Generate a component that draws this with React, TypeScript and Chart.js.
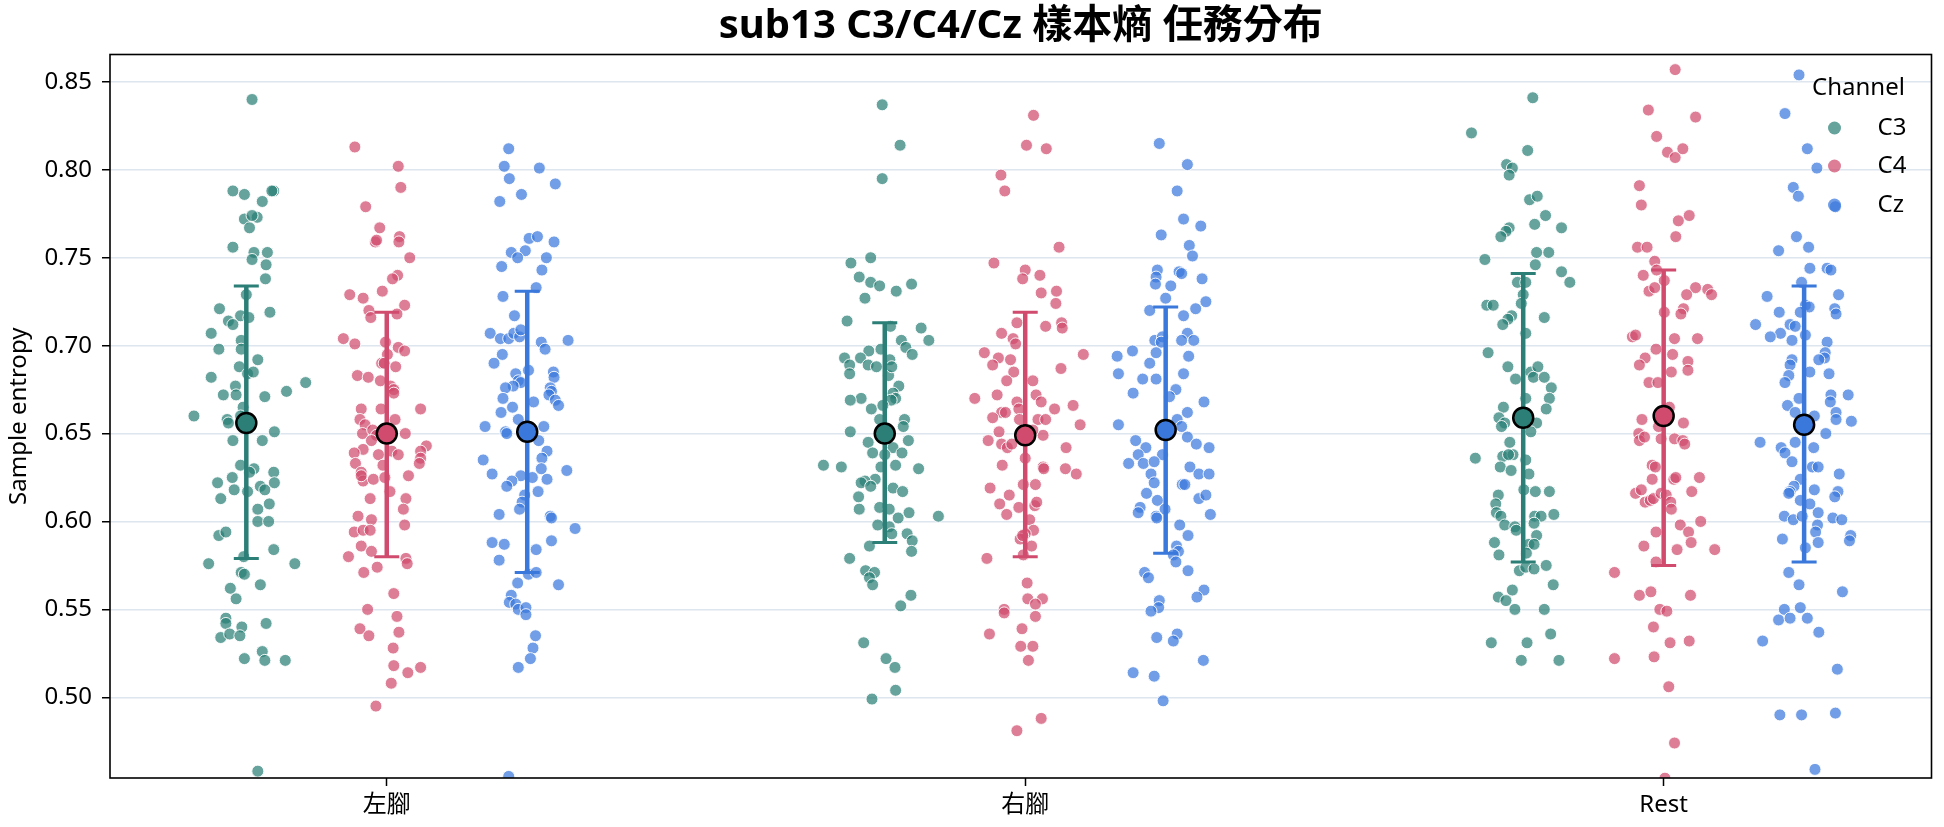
import React, { useEffect, useRef } from 'react';
import { Chart, registerables } from 'chart.js';

Chart.register(...registerables);

const categories = ['左腳', '右腳', 'Rest'];
const channels = ['C3', 'C4', 'Cz'];
const channelOffsets = [-0.22, 0, 0.22];
const yTickValues = [0.5, 0.55, 0.6, 0.65, 0.7, 0.75, 0.8, 0.85];
const pointColors = ['rgba(42,127,118,0.72)', 'rgba(208,75,110,0.72)', 'rgba(58,120,220,0.72)'];
const solidColors = ['#2b7f77', '#d04b6e', '#3a78dc'];

// C3
const c3LeftY = [0.840,0.788,0.786,0.788,0.788,0.782,0.772,0.773,0.767,0.774,0.756,0.753,0.753,0.749,0.746,0.738,0.729,0.721,0.719,0.714,0.717,0.716,0.712,0.707,0.703,0.698,0.698,0.692,0.682,0.688,0.684,0.685,0.679,0.674,0.672,0.677,0.672,0.671,0.660,0.665,0.660,0.658,0.656,0.651,0.646,0.646,0.632,0.630,0.628,0.628,0.622,0.625,0.618,0.617,0.620,0.618,0.622,0.613,0.610,0.607,0.600,0.600,0.592,0.594,0.584,0.576,0.576,0.580,0.571,0.570,0.562,0.556,0.564,0.545,0.542,0.540,0.542,0.534,0.536,0.535,0.522,0.526,0.521,0.521,0.458];
const c3LeftJ = [0.009,-0.021,-0.003,0.043,0.040,0.025,-0.003,0.017,0.005,0.009,-0.021,0.012,0.033,0.009,0.031,0.030,0,-0.042,0.037,-0.028,-0.009,0.004,-0.021,-0.055,-0.008,-0.043,-0.008,0.018,-0.055,-0.011,0.002,0.011,0.093,0.063,-0.036,-0.017,-0.016,0.029,-0.082,-0.005,-0.009,-0.030,-0.028,0.044,-0.021,0.025,-0.009,0.012,0.005,0.043,-0.045,-0.022,-0.019,0.002,0.022,0.029,0.044,-0.040,0.036,0.018,0.018,0.035,-0.043,-0.032,0.043,-0.059,0.076,-0.004,-0.008,-0.003,-0.025,-0.016,0.022,-0.032,-0.032,-0.007,0.031,-0.040,-0.026,-0.010,-0.003,0.025,0.029,0.061,0.018];
const c3RightY = [0.837,0.814,0.795,0.750,0.747,0.739,0.736,0.734,0.731,0.735,0.727,0.714,0.710,0.711,0.703,0.703,0.699,0.695,0.697,0.698,0.693,0.693,0.689,0.684,0.689,0.688,0.692,0.683,0.688,0.677,0.673,0.670,0.669,0.670,0.669,0.664,0.666,0.658,0.658,0.654,0.651,0.646,0.645,0.642,0.639,0.639,0.638,0.632,0.631,0.630,0.632,0.631,0.624,0.623,0.622,0.620,0.619,0.617,0.614,0.607,0.608,0.607,0.605,0.603,0.602,0.598,0.597,0.593,0.593,0.589,0.583,0.586,0.579,0.572,0.571,0.568,0.564,0.558,0.552,0.531,0.522,0.517,0.504,0.499];
const c3RightJ = [-0.004,0.024,-0.004,-0.022,-0.053,-0.040,-0.022,-0.008,0.018,0.042,-0.031,-0.059,0.057,0.009,0.069,0.026,0.033,0.043,-0.025,-0.006,-0.063,-0.038,-0.055,-0.055,-0.026,-0.013,0.008,0.006,0.011,0.022,0.013,0.017,0.010,-0.037,-0.054,-0.021,-0.003,0.031,-0.008,0.029,-0.054,0.037,-0.026,0.013,-0.019,0.027,0,-0.096,-0.068,0.053,0.017,-0.006,-0.015,-0.031,-0.037,-0.022,0.013,0.028,-0.041,-0.040,-0.008,0.007,0.038,0.084,0.021,-0.011,0.007,0.011,0.035,0.043,0.042,-0.024,-0.055,-0.030,-0.016,-0.024,-0.019,0.041,0.025,-0.033,0.002,0.016,0.017,-0.020];
const c3RestY = [0.841,0.821,0.811,0.803,0.801,0.797,0.783,0.785,0.774,0.769,0.767,0.767,0.765,0.762,0.753,0.753,0.749,0.746,0.742,0.736,0.736,0.736,0.729,0.723,0.723,0.724,0.717,0.715,0.712,0.716,0.707,0.696,0.688,0.681,0.685,0.688,0.682,0.682,0.676,0.670,0.664,0.670,0.665,0.659,0.656,0.654,0.656,0.651,0.645,0.636,0.637,0.638,0.638,0.635,0.631,0.629,0.627,0.618,0.617,0.617,0.615,0.610,0.605,0.603,0.598,0.604,0.597,0.595,0.603,0.603,0.599,0.592,0.588,0.587,0.587,0.581,0.582,0.575,0.572,0.574,0.573,0.564,0.561,0.557,0.555,0.550,0.550,0.531,0.531,0.536,0.521,0.521];
const c3RestJ = [0.015,-0.081,0.007,-0.026,-0.017,-0.022,0.010,0.022,0.035,0.018,0.060,-0.022,-0.027,-0.035,0.021,0.040,-0.060,0.019,0.060,0.073,-0.009,0.004,0,-0.057,-0.047,-0.003,-0.018,-0.024,-0.032,0.033,0.004,-0.055,-0.024,-0.012,0.012,0.023,0.016,0.033,0.044,0.041,0.036,0.004,-0.031,-0.038,-0.029,-0.034,0.021,0.012,-0.021,-0.075,-0.032,-0.016,-0.023,0.004,-0.036,-0.019,0.009,0.001,0.019,0.041,-0.039,-0.043,-0.042,-0.035,-0.029,0.048,-0.013,-0.011,0.018,0.028,0.017,0.021,-0.045,0.009,0.017,-0.038,0.005,0.036,-0.006,0.004,0.017,0.047,-0.017,-0.039,-0.027,-0.013,0.033,-0.050,0.006,0.043,-0.003,0.056];

// C4
const c4LeftY = [0.813,0.802,0.790,0.779,0.767,0.759,0.760,0.762,0.759,0.750,0.740,0.738,0.729,0.727,0.731,0.723,0.720,0.716,0.718,0.704,0.701,0.702,0.699,0.697,0.695,0.690,0.690,0.688,0.683,0.682,0.680,0.677,0.675,0.673,0.664,0.664,0.664,0.658,0.658,0.655,0.650,0.652,0.649,0.650,0.646,0.641,0.638,0.640,0.638,0.639,0.643,0.640,0.636,0.633,0.633,0.632,0.628,0.623,0.626,0.624,0.625,0.626,0.617,0.613,0.613,0.607,0.603,0.601,0.598,0.594,0.595,0.595,0.586,0.583,0.580,0.579,0.576,0.574,0.571,0.559,0.550,0.546,0.539,0.535,0.537,0.528,0.518,0.514,0.517,0.508,0.495];
const c4LeftJ = [-0.050,0.018,0.022,-0.033,-0.011,-0.018,-0.016,0.020,0.019,0.036,0.017,0.009,-0.058,-0.037,-0.007,0.028,-0.028,-0.025,0.016,-0.068,-0.050,-0.002,0.018,0.028,0.001,-0.008,-0.004,0.014,-0.046,-0.029,-0.010,0.006,0.011,0.011,0.053,-0.040,-0.009,0.013,-0.042,-0.034,-0.038,-0.022,-0.016,0.029,-0.024,-0.037,-0.013,0.008,0.018,-0.051,0.062,0.053,0.053,0.051,-0.049,-0.006,-0.040,-0.037,-0.040,-0.021,-0.003,0.034,0.005,-0.026,0.030,0.026,-0.045,-0.024,0.028,-0.051,-0.037,-0.026,-0.040,-0.024,-0.060,0.030,0.032,-0.015,-0.036,0.011,-0.030,0.016,-0.042,-0.028,0.019,0.010,0.011,0.033,0.053,0.007,-0.017];
const c4RightY = [0.831,0.814,0.812,0.797,0.788,0.756,0.747,0.743,0.738,0.740,0.730,0.731,0.724,0.713,0.711,0.713,0.710,0.707,0.704,0.701,0.696,0.693,0.689,0.692,0.685,0.695,0.687,0.680,0.680,0.670,0.672,0.668,0.672,0.668,0.664,0.666,0.664,0.662,0.662,0.659,0.658,0.658,0.658,0.655,0.651,0.646,0.644,0.642,0.644,0.649,0.652,0.642,0.636,0.631,0.630,0.632,0.630,0.627,0.619,0.621,0.621,0.615,0.610,0.608,0.609,0.611,0.604,0.601,0.595,0.593,0.590,0.592,0.586,0.581,0.579,0.565,0.556,0.556,0.553,0.550,0.548,0.546,0.536,0.539,0.529,0.529,0.521,0.488,0.481];
const c4RightJ = [0.013,0.002,0.033,-0.038,-0.032,0.053,-0.049,0,-0.004,0.023,0.025,0.049,0.048,-0.013,0.032,0.057,0.058,-0.037,-0.019,-0.015,-0.064,-0.042,-0.051,-0.023,-0.018,0.091,0.056,-0.029,0.012,-0.079,-0.044,-0.013,0.017,0.025,0.046,0.075,-0.010,-0.037,-0.031,-0.051,-0.009,0.020,0.032,0.086,-0.041,-0.058,-0.037,-0.028,-0.021,0.028,0.012,0.064,0,0.028,0.029,-0.036,0.063,0.080,-0.055,-0.003,0.016,-0.025,-0.040,-0.010,0.015,0.018,-0.029,0.007,0.013,0,-0.008,-0.004,0.010,-0.003,-0.060,0.003,0.004,0.027,0.016,-0.033,-0.033,0.016,-0.056,-0.005,-0.007,0.012,0.005,0.025,-0.013];
const c4RestY = [0.857,0.834,0.830,0.819,0.810,0.807,0.812,0.791,0.780,0.771,0.774,0.762,0.756,0.756,0.748,0.743,0.740,0.737,0.731,0.733,0.733,0.732,0.729,0.729,0.721,0.718,0.719,0.705,0.706,0.704,0.704,0.698,0.695,0.693,0.689,0.685,0.691,0.686,0.679,0.679,0.665,0.658,0.656,0.654,0.650,0.646,0.648,0.647,0.647,0.646,0.644,0.632,0.631,0.624,0.624,0.625,0.625,0.617,0.616,0.618,0.611,0.612,0.613,0.616,0.615,0.611,0.607,0.598,0.600,0.594,0.588,0.594,0.586,0.584,0.584,0.577,0.571,0.558,0.560,0.558,0.550,0.549,0.540,0.531,0.532,0.522,0.523,0.506,0.474,0.454];
const c4RestJ = [0.018,-0.024,0.050,-0.011,0.006,0.018,0.030,-0.038,-0.035,0.023,0.040,0.019,-0.041,-0.026,-0.014,-0.011,-0.032,0.001,-0.023,-0.014,0.050,0.069,0.075,0.036,0.031,0.027,0.001,-0.049,-0.044,0.017,0.053,-0.012,0.014,-0.029,-0.038,0.012,0.038,0.038,-0.023,-0.009,0.009,-0.034,0.031,-0.008,-0.039,-0.038,-0.030,-0.004,0.017,0.030,0.033,-0.018,-0.013,-0.018,0.016,0.019,0.056,0.044,-0.044,-0.035,-0.029,-0.021,-0.016,-0.004,0.004,0.011,0.012,0.026,0.058,0.039,0.043,-0.012,-0.031,0.021,0.080,-0.012,-0.077,-0.038,-0.020,0.042,-0.006,0.005,-0.016,0.010,0.040,-0.077,-0.015,0.008,0.017,0.002];

// Cz
const czLeftY = [0.812,0.802,0.795,0.801,0.792,0.786,0.782,0.761,0.762,0.759,0.754,0.753,0.750,0.750,0.745,0.743,0.733,0.728,0.717,0.707,0.704,0.704,0.707,0.705,0.709,0.702,0.698,0.703,0.695,0.690,0.686,0.684,0.680,0.679,0.677,0.685,0.682,0.676,0.674,0.672,0.669,0.666,0.676,0.670,0.668,0.665,0.662,0.658,0.654,0.651,0.650,0.654,0.646,0.640,0.636,0.635,0.630,0.627,0.629,0.626,0.625,0.624,0.623,0.620,0.617,0.615,0.611,0.607,0.604,0.603,0.602,0.596,0.588,0.587,0.589,0.584,0.578,0.570,0.571,0.564,0.565,0.558,0.554,0.553,0.550,0.551,0.547,0.535,0.528,0.522,0.517,0.455];
const czLeftJ = [-0.029,-0.036,-0.028,0.019,0.044,-0.009,-0.043,0.003,0.016,0.042,-0.003,-0.025,-0.015,0.030,-0.040,0.023,0.014,-0.038,-0.020,-0.058,-0.042,-0.029,-0.021,-0.012,-0.010,0.022,0.028,0.064,-0.039,-0.052,0.002,-0.018,-0.014,-0.010,-0.022,0.041,0.042,0.036,0.038,0.034,0.044,0.049,-0.034,-0.038,0.010,-0.023,-0.041,-0.014,-0.066,-0.034,-0.032,0.026,0.018,0.031,0.023,-0.069,0.022,-0.055,0.062,-0.010,0.008,0.031,-0.024,-0.032,0.017,-0.004,-0.008,-0.012,-0.044,0.036,0.038,0.075,-0.055,-0.036,0.038,0.014,-0.044,0.002,0.014,0.049,-0.015,-0.025,-0.028,-0.018,-0.014,-0.002,-0.002,0.013,0.009,0.005,-0.014,-0.029];
const czRightY = [0.815,0.803,0.788,0.772,0.768,0.763,0.757,0.751,0.743,0.739,0.735,0.742,0.741,0.734,0.738,0.727,0.725,0.721,0.720,0.717,0.707,0.703,0.705,0.702,0.703,0.703,0.697,0.694,0.694,0.696,0.690,0.684,0.681,0.681,0.684,0.673,0.675,0.671,0.668,0.662,0.658,0.654,0.655,0.648,0.644,0.642,0.646,0.642,0.638,0.638,0.633,0.633,0.634,0.631,0.627,0.627,0.627,0.622,0.621,0.621,0.616,0.613,0.615,0.612,0.608,0.605,0.607,0.603,0.602,0.604,0.598,0.592,0.586,0.583,0.581,0.577,0.572,0.571,0.568,0.561,0.557,0.555,0.551,0.549,0.534,0.536,0.532,0.521,0.514,0.512,0.498];
const czRightJ = [-0.010,0.034,0.018,0.028,0.055,-0.007,0.037,0.042,-0.013,-0.015,-0.016,0.021,0.025,0.008,0.057,0,0.063,0.047,-0.025,0.028,0.034,-0.017,-0.005,-0.007,0.025,0.044,-0.052,-0.076,0.036,-0.015,-0.025,-0.074,-0.036,-0.015,0.028,-0.051,0.016,0.006,0.060,0.034,0.018,0.025,-0.074,0.034,0.048,0.068,-0.047,-0.031,-0.043,-0.005,-0.058,-0.035,-0.018,0.038,0.052,0.068,-0.023,-0.018,0.026,0.030,-0.030,0.052,0.063,-0.013,-0.040,-0.043,-0.001,-0.015,-0.014,0.070,0.022,0.035,0.017,0.020,0.012,0.016,0.035,-0.033,-0.027,0.060,0.049,-0.010,-0.011,-0.023,-0.014,0.018,0.012,0.059,-0.051,-0.018,-0.004];
const czRestY = [0.854,0.832,0.812,0.801,0.790,0.785,0.779,0.762,0.754,0.756,0.744,0.744,0.743,0.736,0.729,0.728,0.723,0.722,0.721,0.718,0.719,0.719,0.712,0.712,0.711,0.707,0.705,0.703,0.706,0.702,0.696,0.693,0.692,0.692,0.689,0.685,0.684,0.683,0.679,0.672,0.672,0.668,0.670,0.666,0.662,0.660,0.662,0.658,0.657,0.650,0.645,0.645,0.642,0.639,0.642,0.634,0.631,0.631,0.627,0.624,0.620,0.617,0.616,0.618,0.617,0.614,0.612,0.610,0.605,0.603,0.601,0.603,0.602,0.601,0.598,0.594,0.590,0.588,0.592,0.589,0.585,0.571,0.564,0.560,0.550,0.544,0.545,0.551,0.545,0.537,0.532,0.516,0.490,0.490,0.491,0.459];
const czRestJ = [-0.008,-0.030,0.005,0.020,-0.017,-0.009,0.049,-0.012,-0.040,0.007,0.009,0.036,0.042,-0.004,0.054,-0.058,0.002,0.008,0.048,0.050,-0.039,-0.006,-0.076,-0.022,-0.014,-0.037,-0.053,-0.019,0.002,0.036,0.033,0.032,0.023,-0.019,-0.022,0.009,0.039,-0.024,-0.030,0.042,0.069,0.041,-0.008,-0.026,-0.014,0.016,0.050,0.050,0.074,0.034,-0.069,-0.014,-0.036,-0.030,0.015,-0.019,0.013,0.022,0.055,-0.006,-0.016,-0.022,-0.024,0.016,0.053,0.048,-0.006,0.009,0.022,-0.031,-0.017,-0.003,0.045,0.059,0.021,0.018,-0.034,0.022,0.073,0.071,0.002,-0.024,-0.008,0.060,-0.031,-0.040,-0.022,-0.006,0.005,0.023,-0.065,0.052,-0.038,-0.004,0.049,0.017];

// mean and error bar ends (per category: 左腳, 右腳, Rest)
const meanC3 = [0.656, 0.650, 0.659];
const lowC3 = [0.579, 0.588, 0.577];
const highC3 = [0.734, 0.713, 0.741];
const meanC4 = [0.650, 0.649, 0.660];
const lowC4 = [0.580, 0.580, 0.575];
const highC4 = [0.719, 0.719, 0.743];
const meanCz = [0.651, 0.652, 0.655];
const lowCz = [0.571, 0.582, 0.577];
const highCz = [0.731, 0.722, 0.734];

const FONT = "'Noto Sans', 'Noto Sans CJK TC', sans-serif";
const LABEL_SIZE = 24;

export default function App() {
  const ref = useRef<HTMLCanvasElement | null>(null);

  useEffect(() => {
    document.body.style.margin = '0';
    const canvas = ref.current;
    if (!canvas) return;

    const groupsY = [
      [c3LeftY, c3RightY, c3RestY],
      [c4LeftY, c4RightY, c4RestY],
      [czLeftY, czRightY, czRestY],
    ];
    const groupsJ = [
      [c3LeftJ, c3RightJ, c3RestJ],
      [c4LeftJ, c4RightJ, c4RestJ],
      [czLeftJ, czRightJ, czRestJ],
    ];
    const means = [meanC3, meanC4, meanCz];
    const lows = [lowC3, lowC4, lowCz];
    const highs = [highC3, highC4, highCz];

    const meanDatasets = channels.map((ch, k) => ({
      type: 'scatter' as const,
      label: ch + ' mean',
      data: categories.map((_, i) => ({ x: i + channelOffsets[k], y: means[k][i] })),
      pointRadius: 10,
      pointHoverRadius: 10,
      backgroundColor: solidColors[k],
      borderColor: '#000',
      borderWidth: 2.5,
      clip: 0,
    }));

    const pointDatasets = channels.map((ch, k) => {
      const data: { x: number; y: number }[] = [];
      categories.forEach((_, i) => {
        const ys = groupsY[k][i];
        const js = groupsJ[k][i];
        const n = Math.min(ys.length, js.length);
        for (let p = 0; p < n; p++) {
          data.push({ x: i + channelOffsets[k] + js[p], y: ys[p] });
        }
      });
      return {
        type: 'scatter' as const,
        label: ch,
        data,
        pointRadius: 6,
        pointHoverRadius: 6,
        backgroundColor: pointColors[k],
        borderColor: 'rgba(255,255,255,0.9)',
        borderWidth: 1,
        clip: 0,
      };
    });

    const errorBarPlugin = {
      id: 'errorBars',
      beforeDatasetDraw(chart: any, args: any) {
        if (args.index !== channels.length - 1) return;
        const { ctx, scales } = chart;
        const xs = scales.x;
        const ysc = scales.y;
        ctx.save();
        channels.forEach((_, k) => {
          categories.forEach((__, i) => {
            const px = xs.getPixelForValue(i + channelOffsets[k]);
            const lo = ysc.getPixelForValue(lows[k][i]);
            const hi = ysc.getPixelForValue(highs[k][i]);
            ctx.strokeStyle = solidColors[k];
            ctx.lineCap = 'butt';
            ctx.lineWidth = 4.5;
            ctx.beginPath();
            ctx.moveTo(px, lo);
            ctx.lineTo(px, hi);
            ctx.stroke();
            ctx.lineWidth = 3;
            ctx.beginPath();
            ctx.moveTo(px - 12.5, lo);
            ctx.lineTo(px + 12.5, lo);
            ctx.moveTo(px - 12.5, hi);
            ctx.lineTo(px + 12.5, hi);
            ctx.stroke();
          });
        });
        ctx.restore();
      },
    };

    const framePlugin = {
      id: 'frameAndLegend',
      afterDraw(chart: any) {
        const { ctx, chartArea } = chart;
        ctx.save();
        ctx.strokeStyle = '#000';
        ctx.lineWidth = 1.6;
        ctx.strokeRect(chartArea.left, chartArea.top, chartArea.right - chartArea.left, chartArea.bottom - chartArea.top);

        // legend
        const r = chartArea.right;
        const t = chartArea.top;
        ctx.fillStyle = '#000';
        ctx.font = `${LABEL_SIZE}px ${FONT}`;
        ctx.textBaseline = 'middle';
        ctx.textAlign = 'center';
        ctx.fillText('Channel', r - 73, t + 33.5);
        const rowY = [73.5, 111.5, 150.5];
        channels.forEach((ch, k) => {
          ctx.beginPath();
          ctx.fillStyle = pointColors[k];
          ctx.arc(r - 97, t + rowY[k], 6.5, 0, Math.PI * 2);
          ctx.fill();
          ctx.fillStyle = '#000';
          ctx.textAlign = 'left';
          ctx.fillText(ch, r - 54, t + rowY[k]);
        });
        ctx.restore();
      },
    };

    const chart = new Chart(canvas, {
      type: 'scatter',
      data: { datasets: [...meanDatasets, ...pointDatasets] as any },
      plugins: [errorBarPlugin, framePlugin],
      options: {
        responsive: false,
        animation: false,
        devicePixelRatio: 1,
        layout: { padding: { left: 0, right: 9, top: 0, bottom: 0 } },
        plugins: {
          legend: { display: false },
          tooltip: { enabled: false },
          title: {
            display: true,
            fullSize: false,
            text: 'sub13 C3/C4/Cz 樣本熵 任務分布',
            color: '#000',
            font: { family: FONT, size: 40, weight: 'bold' },
            padding: { top: 3, bottom: 3.5 },
          },
        },
        scales: {
          x: {
            type: 'linear',
            min: -0.4335,
            max: 2.4195,
            afterBuildTicks: (s: any) => {
              s.ticks = categories.map((_, i) => ({ value: i }));
            },
            afterFit: (s: any) => {
              s.height = 49;
            },
            ticks: {
              callback: (v: any) => categories[Math.round(Number(v))] ?? '',
              color: '#000',
              font: { family: FONT, size: LABEL_SIZE },
              padding: 5,
              maxRotation: 0,
              autoSkip: false,
            },
            grid: {
              drawOnChartArea: false,
              drawTicks: true,
              tickLength: 8,
              tickColor: '#000',
              tickWidth: 1.5,
            },
            border: { display: false },
          },
          y: {
            type: 'linear',
            min: 0.4541,
            max: 0.8656,
            afterBuildTicks: (s: any) => {
              s.ticks = yTickValues.map((v) => ({ value: v }));
            },
            afterFit: (s: any) => {
              s.width = 110;
            },
            ticks: {
              callback: (v: any) => Number(v).toFixed(2),
              color: '#000',
              font: { family: FONT, size: LABEL_SIZE },
              padding: 10,
            },
            grid: {
              color: '#dde6ef',
              lineWidth: 1.5,
              drawTicks: true,
              tickLength: 8,
              tickColor: '#000',
              tickWidth: 1.5,
            },
            border: { display: false },
            title: {
              display: true,
              text: 'Sample entropy',
              color: '#000',
              font: { family: FONT, size: LABEL_SIZE },
              padding: { top: 5, bottom: 0 },
            },
          },
        },
      } as any,
    });

    return () => {
      chart.destroy();
    };
  }, []);

  return (
    <canvas
      ref={ref}
      width={1944}
      height={827}
      style={{ display: 'block', width: '1944px', height: '827px' }}
    />
  );
}
